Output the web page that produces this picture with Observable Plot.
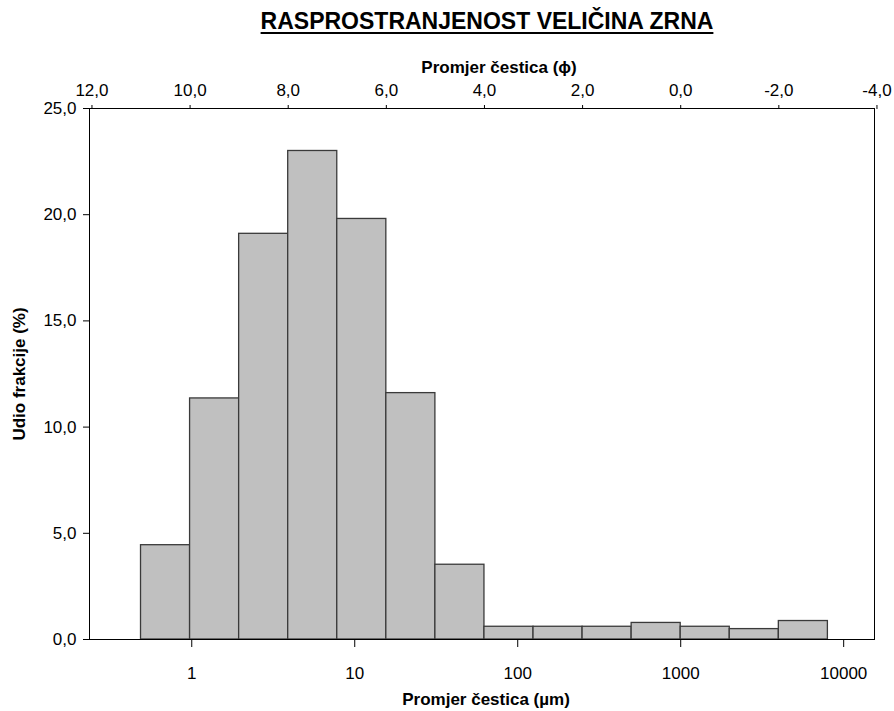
<!DOCTYPE html>
<html>
<head>
<meta charset="utf-8">
<script src="https://cdn.jsdelivr.net/npm/d3@7"></script>
<script src="https://cdn.jsdelivr.net/npm/@observablehq/plot@0.6"></script>
<style>
  html, body { margin: 0; padding: 0; background: #fff; }
  body { width: 894px; height: 711px; overflow: hidden; font-family: "Liberation Sans", Arial, sans-serif; }
  #title { height: 44px; position: relative; }
  #title span { position: absolute; left: 487px; top: 10px; transform: translateX(-50%); white-space: nowrap;
    font-weight: bold; font-size: 23px; line-height: 1; text-decoration: underline; text-decoration-thickness: 2px;
    text-underline-offset: 3px; color: #000; }
</style>
</head>
<body>
<div id="title"><span>RASPROSTRANJENOST VELIČINA ZRNA</span></div>
<div id="chart"></div>
<script>
// Bins: left edge in phi units (each bin 1 phi wide), fraction in %
const phiLeft = [11, 10, 9, 8, 7, 6, 5, 4, 3, 2, 1, 0, -1, -2];
const fraction = [4.44, 11.35, 19.1, 23.0, 19.8, 11.6, 3.52, 0.6, 0.6, 0.6, 0.78, 0.6, 0.49, 0.87];
const phiTicks = [12, 10, 8, 6, 4, 2, 0, -2, -4];
const umTicks = [1, 10, 100, 1000, 10000];
const yTicks = [0, 5, 10, 15, 20, 25];

const bins = phiLeft.map((p, i) => ({ phi1: p, phi2: p - 1, frac: fraction[i] }));
const umPos = umTicks.map(um => Math.log2(1000 / um));
const umLabel = new Map(umPos.map((p, i) => [p, String(umTicks[i])]));
const comma = v => v.toFixed(1).replace(".", ",");

const chart = Plot.plot({
  width: 894,
  height: 667,
  marginTop: 64,
  marginBottom: 72,
  marginLeft: 89,
  marginRight: 20,
  style: { fontFamily: "'Liberation Sans', Arial, sans-serif", fontSize: "17px", color: "#000", background: "#fff", overflow: "visible" },
  x: { type: "linear", domain: [12.05, -3.95] },
  y: { domain: [0, 25] },
  marks: [
    Plot.rectY(bins, { x1: "phi1", x2: "phi2", y: "frac", fill: "#c0c0c0", stroke: "#3a3a3a", strokeWidth: 1.3 }),
    Plot.frame({ stroke: "#000", strokeWidth: 1 }),
    Plot.axisX(phiTicks, { anchor: "top", tickSize: 4, tickPadding: 9, tickFormat: comma, label: null, fontSize: 17 }),
    Plot.axisX(umPos, { anchor: "bottom", tickSize: 8, tickPadding: 19, tickFormat: d => umLabel.get(d), label: null, fontSize: 17 }),
    Plot.axisY(yTicks, { anchor: "left", tickSize: 6, tickPadding: 7, tickFormat: comma, label: null, fontSize: 17 }),
    Plot.text(["Promjer čestica (ϕ)"], { frameAnchor: "top", dx: 17, dy: -41, lineAnchor: "middle", fontWeight: "bold", fontSize: 17 }),
    Plot.text(["Promjer čestica (µm)"], { frameAnchor: "bottom", dx: 4, dy: 60, lineAnchor: "middle", fontWeight: "bold", fontSize: 17 }),
    Plot.text(["Udio frakcije (%)"], { frameAnchor: "left", dx: -70, rotate: -90, textAnchor: "middle", lineAnchor: "middle", fontWeight: "bold", fontSize: 17 })
  ]
});
document.getElementById("chart").appendChild(chart);
</script>
</body>
</html>
